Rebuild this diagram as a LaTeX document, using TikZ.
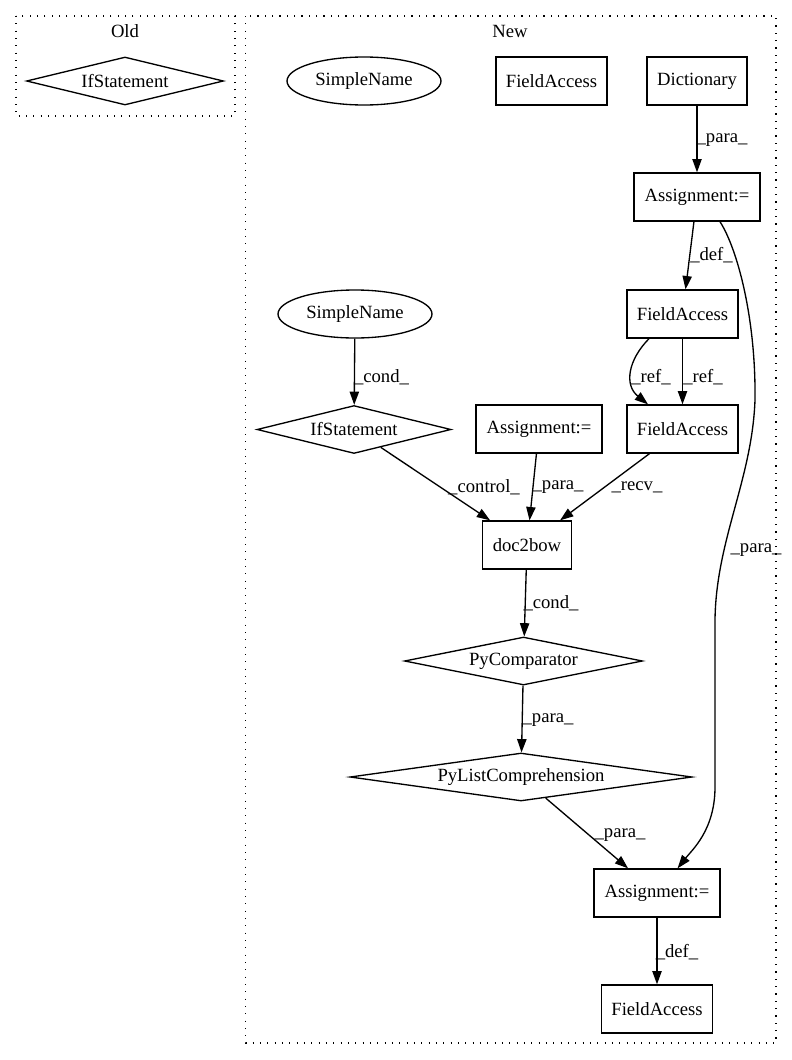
\documentclass[tikz,border=0pt]{standalone}
\usepackage{fontspec}
\setmainfont{Liberation Serif}
\usetikzlibrary{shapes.geometric,arrows.meta,calc}
\begin{document}
\begin{tikzpicture}[x=0.75pt,y=-0.75pt,
  every node/.style={font=\fontsize{14pt}{16pt}\selectfont},
  box/.style={draw, line width=1pt, rectangle, inner sep=0pt, minimum height=36pt},
  ell/.style={draw, line width=1pt, ellipse, inner sep=0pt, minimum height=36pt, minimum width=115.5pt},
  dia/.style={draw, line width=1pt, diamond, aspect=6, inner sep=0pt, minimum height=36pt},
  edge/.style={draw, line width=1pt, -{Triangle[length=10pt,width=7pt]}},
  lbl/.style={inner sep=0pt},
  cluster/.style={draw, line width=1pt, dash pattern=on 0.8pt off 4.7pt}
]
\useasboundingbox (0,0) rectangle (792,1060);
\fill[white] (0,0) rectangle (792,1060);

% clusters
\draw[cluster] (16,16) rectangle (235,116);
\draw[cluster] (245.5,16) rectangle (776,1043);
\node (oldt) at (125,31) {Old};
\node (newt) at (510,31) {New};

% Old
\node[dia, minimum width=147.75pt] (oldif) at (125,81) {IfStatement};

% New
\node[ell] (sn1) at (364,81) {SimpleName};
\node[box, minimum width=83.25pt] (fa1) at (551.5,81) {FieldAccess};
\node[box, minimum width=75pt] (dict) at (697,81) {Dictionary};
\node[box, minimum width=94.5pt] (as1) at (697,197) {Assignment:=};
\node[box, minimum width=83.25pt] (fa2) at (682.5,314) {FieldAccess};
\node[ell] (sn2) at (355,314) {SimpleName};
\node[dia, minimum width=145.5pt] (if2) at (354,429.5) {IfStatement};
\node[box, minimum width=94.5pt] (as2) at (539,429) {Assignment:=};
\node[box, minimum width=83.25pt] (fa3) at (682.5,429) {FieldAccess};
\node[box, minimum width=66.75pt] (d2b) at (527,545) {doc2bow};
\node[dia, minimum width=178.5pt] (pyc) at (523.5,661) {PyComparator};
\node[dia, minimum width=256.5pt] (pyl) at (521,777) {PyListComprehension};
\node[box, minimum width=94.5pt] (as3) at (657,893) {Assignment:=};
\node[box, minimum width=83.25pt] (fa4) at (657,1009) {FieldAccess};

% edges
\draw[edge] (dict) -- (as1);
\draw[edge] (as1) -- (fa2);
\draw[edge] ($(as1.south)+(23,0)$) .. controls (738,250) and (756,320) .. (755,400)
  .. controls (752,480) and (716,540) .. (715,620) -- (715,787)
  .. controls (715,830) and (692,850) .. ($(as3.north)+(20.6,0)$);
\draw[edge] ($(fa2.south)+(-33.5,0)$) .. controls (628,360) and (624,385) .. ($(fa3.north)+(-34.5,0)$);
\draw[edge] (fa2) -- (fa3);
\draw[edge] (sn2) -- (if2);
\draw[edge] (if2) -- (d2b);
\draw[edge] (as2) -- (d2b);
\draw[edge] (fa3) -- (d2b);
\draw[edge] (d2b) -- (pyc);
\draw[edge] (pyc) -- (pyl);
\draw[edge] (pyl) -- (as3);
\draw[edge] (as3) -- (fa4);

% labels
\node[lbl] (l1) at (722,140) {\_para\_};
\node[lbl] (l2) at (711.5,255) {\_def\_};
\node[lbl] (l3) at (651,377) {\_ref\_};
\node[lbl] (l4) at (703,377) {\_ref\_};
\node[lbl] (l5) at (381.5,377) {\_cond\_};
\node[lbl] (l6) at (484,487) {\_control\_};
\node[lbl] (l7) at (558,487) {\_para\_};
\node[lbl] (l8) at (637,487) {\_recv\_};
\node[lbl] (l9) at (756,550) {\_para\_};
\node[lbl] (l10) at (551,603) {\_cond\_};
\node[lbl] (l11) at (548,720) {\_para\_};
\node[lbl] (l12) at (620,835) {\_para\_};
\node[lbl] (l13) at (677,952) {\_def\_};
\end{tikzpicture}
\end{document}
